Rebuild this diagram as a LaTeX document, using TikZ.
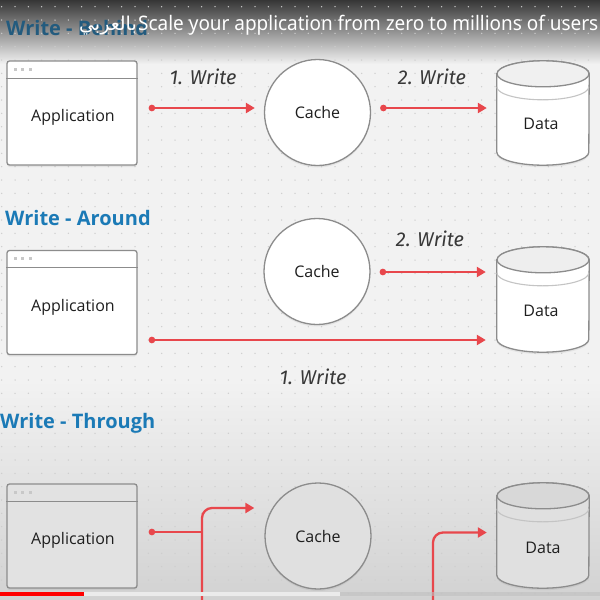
\documentclass[tikz,border=0pt]{standalone}
\usepackage{fontspec}
\setmainfont{Open Sans}
\newfontfamily\hand{Fira Sans}
\newfontfamily\ytfont{Noto Sans}
\newfontfamily\arabicfont[Script=Arabic]{DejaVu Sans}
\TeXXeTstate=1
\usetikzlibrary{arrows.meta,calc,shadows}
\definecolor{bg}{HTML}{F2F2F2}
\definecolor{topdark}{HTML}{363636}
\definecolor{botgray}{HTML}{D2D2D2}
\definecolor{gridcol}{HTML}{CDCDCD}
\definecolor{secblue}{HTML}{1B7AB6}
\definecolor{secdark}{HTML}{235B7E}
\definecolor{arrred}{HTML}{E8474C}
\definecolor{boxgray}{HTML}{8C8C8C}
\definecolor{txt}{HTML}{1E1E1E}
\definecolor{hwcol}{HTML}{383838}
\definecolor{dotcol}{HTML}{C8C8C8}
\definecolor{lidcol}{HTML}{C4C4C4}
\definecolor{capA}{HTML}{F0F0F0}
\definecolor{capB}{HTML}{EEEEEE}
\definecolor{capC}{HTML}{D8D8D8}
\definecolor{lowfill}{HTML}{E2E2E2}
\definecolor{lowfillb}{HTML}{E0E0E0}
\newcommand\dbcyl[5]{%
  \node[inner sep=0pt, minimum width=92pt, minimum height={#3-#2}] (#1) at (543,{(#2+#3)/2}) {};
  \filldraw[draw=boxgray, line width=1.3pt, fill=#4, drop shadow={shadow xshift=0pt, shadow yshift=-2pt, opacity=0.12}]
    ([yshift=-13pt]#1.north west) -- ([yshift=13pt]#1.south west)
    arc[start angle=180, end angle=360, x radius=46pt, y radius=13pt]
    -- ([yshift=-13pt]#1.north east)
    arc[start angle=0, end angle=180, x radius=46pt, y radius=13pt] -- cycle;
  \filldraw[draw=boxgray, line width=1.3pt, fill=#5] ([yshift=-13pt]#1.north) ellipse[x radius=46pt, y radius=13pt];
  \draw[lidcol, line width=1.1pt] ([yshift=-26pt]#1.north west)
    arc[start angle=180, end angle=360, x radius=46pt, y radius=13pt];
}
\newcommand\appwin[3]{% name, center y, fill
  \node[win, fill=#3] (#1) at (72,#2) {};
  \draw[boxgray, line width=1pt] ([yshift=-18pt]#1.north west) -- ([yshift=-18pt]#1.north east);
  \foreach \dx in {9,16.5,24}
    \fill[dotcol] ($(#1.north west)+(\dx,9)$) +(-1.6,-1.6) rectangle +(1.6,1.6);
}
\begin{document}
\begin{tikzpicture}[x=1pt,y=-1pt,
  win/.style={draw=boxgray, line width=1.3pt, rounded corners=2.5pt,
    minimum width=130pt, minimum height=104pt, inner sep=0pt,
    drop shadow={shadow xshift=0pt, shadow yshift=-2pt, opacity=0.12}},
  cachec/.style={circle, draw=boxgray, line width=1.3pt, minimum size=106pt,
    inner sep=0pt, font=\fontsize{16}{19}\selectfont, text=txt,
    drop shadow={shadow xshift=0pt, shadow yshift=-2pt, opacity=0.12}},
  lbl/.style={font=\fontsize{16}{19}\selectfont, text=txt, inner sep=0pt},
  hw/.style={font=\hand\itshape\fontsize{20}{24}\selectfont, text=hwcol, inner sep=0pt},
  sect/.style={font=\bfseries\fontsize{20}{24}\selectfont, text=secblue, anchor=base west, inner sep=0pt},
  wire/.style={draw=arrred, line width=2.3pt},
  dotted start/.style={{Circle[length=6.5pt]}-},
  tipped/.style={-{Triangle[length=9pt,width=10pt]}},
  both/.style={{Circle[length=6.5pt]}-{Triangle[length=9pt,width=10pt]}}
]
\useasboundingbox (0,0) rectangle (600,600);
% background
\fill[bg] (0,0) rectangle (600,600);
\shade[top color=topdark, bottom color=bg] (0,0) rectangle (600,64);
\shade[top color=bg, bottom color=botgray] (0,380) rectangle (600,600);
\foreach \i in {0,...,44}
  \foreach \j in {0,...,44}
    \fill[gridcol] ({1.7+13.333*\i},{6.7+13.333*\j}) circle[radius=0.75pt];

% ===== Write - Behind =====
\node[sect, text=secdark] (t1) at (6,35) {Write - Behind};
\appwin{app1}{113}{white}
\node[lbl] (app1t) at (73,117) {Application};
\node[cachec, fill=white] (cache1) at (317.5,112.5) {Cache};
\dbcyl{data1}{61}{165}{white}{capA}
\node[lbl] (data1t) at (541,124) {Data};
\coordinate (a1s) at ($(app1.east)+(11,-5)$);
\coordinate (a1e) at ($(cache1.west)+(-9,-4.5)$);
\coordinate (b1s) at ($(cache1.east)+(9,-4.5)$);
\coordinate (b1e) at ($(data1.west)+(-10,-5)$);
\draw[wire, both] (a1s) -- (a1e);
\draw[wire, both] (b1s) -- (b1e);
\node[hw] (w11) at (203,77) {1. Write};
\node[hw] (w12) at (432,77) {2. Write};

% ===== Write - Around =====
\node[sect] (t2) at (5,225) {Write - Around};
\appwin{app2}{302.5}{white}
\node[lbl] (app2t) at (73,307) {Application};
\node[cachec, fill=white] (cache2) at (317,271.5) {Cache};
\dbcyl{data2}{247}{352}{white}{capB}
\node[lbl] (data2t) at (541,311) {Data};
\coordinate (a2s) at ($(app2.east)+(11,37.5)$);
\coordinate (a2e) at (data2.west |- a2s);
\coordinate (a2ee) at ($(a2e)+(-11,0)$);
\coordinate (b2s) at ($(cache2.east)+(9,0.5)$);
\coordinate (b2e) at ($(data2.west |- b2s)+(-11,0)$);
\draw[wire, both] (a2s) -- (a2ee);
\draw[wire, both] (b2s) -- (b2e);
\node[hw] (w21) at (430,239) {2. Write};
\node[hw] (w22) at (313,377) {1. Write};

% ===== Write - Through =====
\node[sect] (t3) at (0,428) {Write - Through};
\appwin{app3}{536}{lowfill}
\node[lbl] (app3t) at (73,540) {Application};
\node[cachec, fill=lowfillb] (cache3) at (318,536) {Cache};
\dbcyl{data3}{483}{588}{lowfillb}{capC}
\node[lbl] (data3t) at (543,548) {Data};
\coordinate (a3s) at ($(app3.east)+(11,-4)$);
\coordinate (j3) at (202,532);
\coordinate (j3b) at (202,600);
\coordinate (c3e) at ($(cache3.west)+(-10,-28)$);
\coordinate (d3b) at (433,600);
\coordinate (d3e) at ($(data3.west)+(-10,-3)$);
\draw[wire, dotted start] (a3s) -- (j3);
\draw[wire, tipped, rounded corners=10pt] (j3b) |- (c3e);
\draw[wire, tipped, rounded corners=10pt] (d3b) |- (d3e);

% progress bar
\fill[black!25, opacity=0.6] (340,592) rectangle (600,596);
\fill[white!92!black] (84,592) rectangle (340,596);
\fill[red] (0,592) rectangle (84,596);

% video title overlay
\node[anchor=base west, inner sep=0pt, text=white, font=\ytfont\fontsize{20}{24}\selectfont] (vt)
  at (138,30) {\resizebox{460pt}{\height}{Scale your application from zero to millions of users}};
\node[anchor=base east, inner sep=0pt, text=white, font=\arabicfont\fontsize{19}{22}\selectfont] (vta)
  at ([xshift=-1pt]vt.base west) {\beginR بالعربي\endR};
\end{tikzpicture}
\end{document}
